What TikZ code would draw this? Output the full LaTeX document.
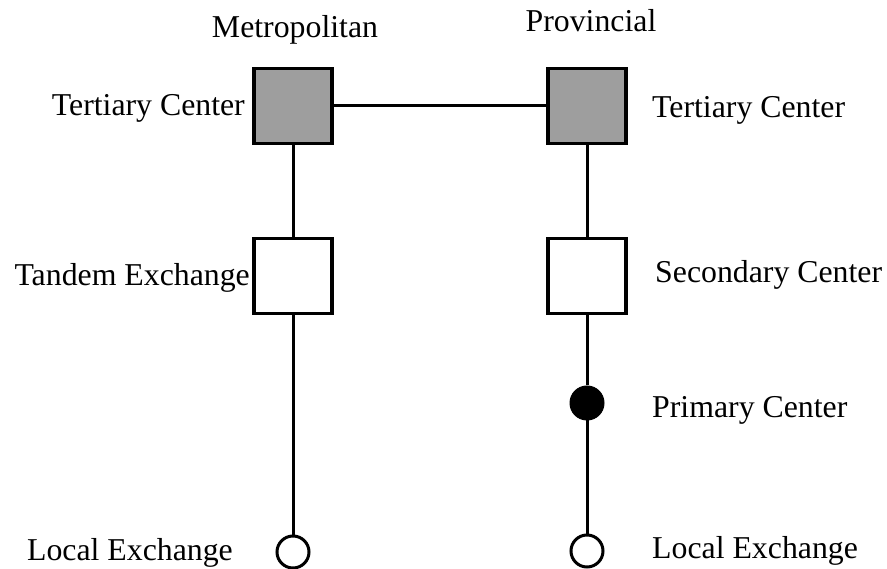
\documentclass[tikz,border=0pt]{standalone}
\usepackage{fontspec}
\setmainfont{Liberation Serif}
\begin{document}
\begin{tikzpicture}[x=1pt,y=-1pt,
  lbl/.style={font=\fontsize{31.8}{36}\selectfont, inner sep=0pt},
  centerbox/.style={draw=black, line width=3.5pt, minimum width=78pt, minimum height=75pt, inner sep=0pt},
  shaded/.style={centerbox, fill=black!38},
  plain/.style={centerbox, fill=white},
  primary/.style={circle, fill=black, draw=black, line width=1pt, minimum size=34pt, inner sep=0pt},
  local/.style={circle, fill=white, draw=black, line width=3pt, minimum size=32pt, inner sep=0pt},
  link/.style={line width=3pt}]
  \useasboundingbox (0,0) rectangle (887,569);

  % column headings
  \node[lbl] (metro) at (295,30) {Metropolitan};
  \node[lbl] (prov) at (591,21) {Provincial};

  % metropolitan hierarchy
  \node[shaded] (mt) at (293,106) {};
  \node[plain] (te) at (293,276) {};
  \node[local] (lel) at (293,552) {};

  % provincial hierarchy
  \node[shaded] (pt) at (587,106) {};
  \node[plain] (sc) at (587,276) {};
  \node[primary] (pc) at (587,403) {};
  \node[local] (ler) at (587,551) {};

  % trunk links
  \draw[link] (mt) -- (pt);
  \draw[link] (mt) -- (te);
  \draw[link] (te) -- (lel);
  \draw[link] (pt) -- (sc);
  \draw[link] (sc) -- (pc);
  \draw[link] (pc) -- (ler);

  % labels
  \node[lbl, anchor=mid east] (lmt) at (245,113) {Tertiary Center};
  \node[lbl, anchor=mid west] (lpt) at (652,115) {Tertiary Center};
  \node[lbl, anchor=mid east] (lte) at (250,283) {Tandem Exchange};
  \node[lbl, anchor=mid west] (lsc) at (655,280) {Secondary Center};
  \node[lbl, anchor=mid west] (lpc) at (652,415) {Primary Center};
  \node[lbl, anchor=mid east] (llel) at (233,558) {Local Exchange};
  \node[lbl, anchor=mid west] (ller) at (652,556) {Local Exchange};
\end{tikzpicture}
\end{document}
